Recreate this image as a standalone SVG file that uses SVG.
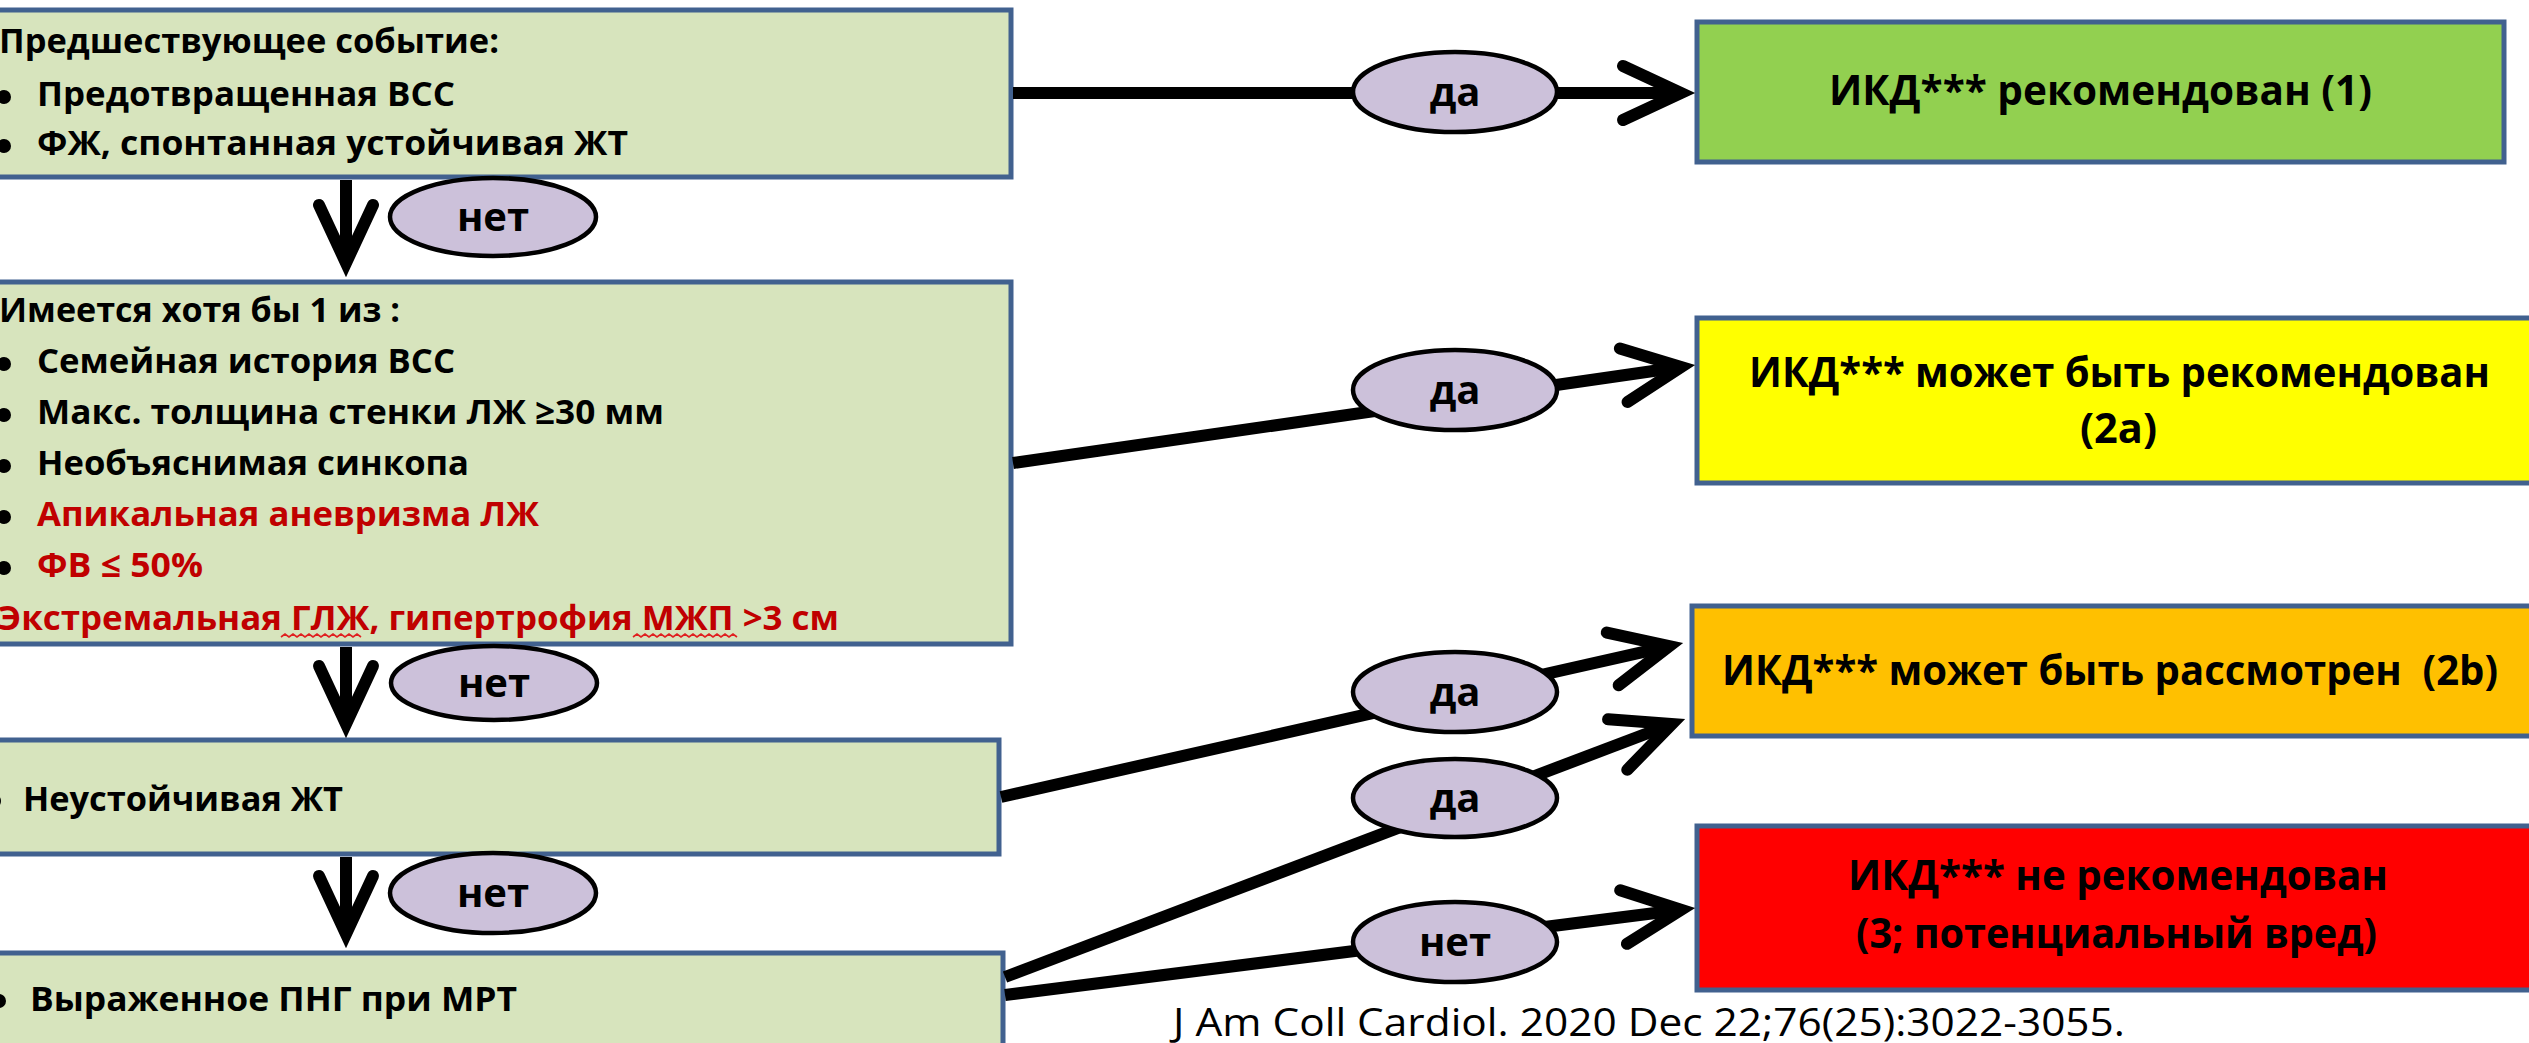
<svg xmlns="http://www.w3.org/2000/svg" width="2529" height="1043" viewBox="0 0 2529 1043">
  <style>
    .step { fill: #d7e4bd; stroke: #41618f; stroke-width: 5; }
    .out  { stroke: #41618f; stroke-width: 5; }
    .t    { font-family: "Open Sans", "Noto Sans", "Liberation Sans", sans-serif; font-weight: bold; font-size: 34px; fill: #000; }
    .red  { fill: #c00000; }
    .big  { font-family: "Open Sans", "Noto Sans", "Liberation Sans", sans-serif; font-weight: bold; font-size: 42px; fill: #000; white-space: pre; }
    .lbl  { fill: #ccc1da; stroke: #000; stroke-width: 4.5; }
    .lt   { font-family: "Open Sans", "Noto Sans", "Liberation Sans", sans-serif; font-weight: bold; font-size: 40px; fill: #000; text-anchor: middle; }
    .wire { stroke: #000; stroke-width: 12; fill: none; marker-end: url(#chev); }
    .dot  { fill: #000; }
    .squig { fill: none; stroke: #e02020; stroke-width: 1.6; }
    .ref  { font-family: "Open Sans", "Noto Sans", "Liberation Sans", sans-serif; font-size: 38px; fill: #000; }
  </style>
  <defs>
    <marker id="chev" markerUnits="userSpaceOnUse" viewBox="-75 -40 95 80" refX="0" refY="0" markerWidth="95" markerHeight="80" orient="auto" overflow="visible">
      <path d="M-58,-27 L0,0 L-58,27" fill="none" stroke="#000" stroke-width="12" stroke-linecap="round" stroke-linejoin="miter" stroke-miterlimit="10"/>
    </marker>
  </defs>

  <rect width="2529" height="1043" fill="#fff"/>

  <!-- decision chain on the left -->
  <g id="prior-event">
    <rect class="step" x="-10" y="10" width="1021" height="167"/>
    <text class="t" x="-1" y="53" textLength="500" lengthAdjust="spacingAndGlyphs">Предшествующее событие:</text>
    <circle class="dot" cx="4" cy="97" r="7"/>
    <text class="t" x="37" y="106" textLength="418" lengthAdjust="spacingAndGlyphs">Предотвращенная ВСС</text>
    <circle class="dot" cx="4" cy="146" r="7"/>
    <text class="t" x="37" y="155" textLength="591" lengthAdjust="spacingAndGlyphs">ФЖ, спонтанная устойчивая ЖТ</text>
  </g>

  <g id="risk-factors">
    <rect class="step" x="-10" y="282" width="1021" height="362"/>
    <text class="t" x="-1" y="322" textLength="401" lengthAdjust="spacingAndGlyphs">Имеется хотя бы 1 из :</text>
    <circle class="dot" cx="4" cy="364" r="7"/>
    <text class="t" x="37" y="373" textLength="418" lengthAdjust="spacingAndGlyphs">Семейная история ВСС</text>
    <circle class="dot" cx="4" cy="415" r="7"/>
    <text class="t" x="37" y="424" textLength="627" lengthAdjust="spacingAndGlyphs">Макс. толщина стенки ЛЖ ≥30 мм</text>
    <circle class="dot" cx="4" cy="466" r="7"/>
    <text class="t" x="37" y="475" textLength="432" lengthAdjust="spacingAndGlyphs">Необъяснимая синкопа</text>
    <circle class="dot" cx="4" cy="517" r="7"/>
    <text class="t red" x="37" y="526" textLength="502" lengthAdjust="spacingAndGlyphs">Апикальная аневризма ЛЖ</text>
    <circle class="dot red" cx="4" cy="568" r="7"/>
    <text class="t red" x="37" y="577" textLength="166" lengthAdjust="spacingAndGlyphs">ФВ ≤ 50%</text>
    <text class="t red" x="-2" y="630" textLength="841" lengthAdjust="spacingAndGlyphs">Экстремальная ГЛЖ, гипертрофия МЖП &gt;3 см</text>
    <path class="squig" d="M281,637 l4,-3 l4,3 l4,-3 l4,3 l4,-3 l4,3 l4,-3 l4,3 l4,-3 l4,3 l4,-3 l4,3 l4,-3 l4,3 l4,-3 l4,3 l4,-3 l4,3 l4,-3 l4,3"/>
    <path class="squig" d="M633,637 l4,-3 l4,3 l4,-3 l4,3 l4,-3 l4,3 l4,-3 l4,3 l4,-3 l4,3 l4,-3 l4,3 l4,-3 l4,3 l4,-3 l4,3 l4,-3 l4,3 l4,-3 l4,3 l4,-3 l4,3 l4,-3 l4,3 l4,-3 l4,3"/>
  </g>

  <g id="nsvt">
    <rect class="step" x="-10" y="740" width="1009" height="114"/>
    <circle class="dot" cx="-6" cy="801" r="7"/>
    <text class="t" x="23" y="811" textLength="320" lengthAdjust="spacingAndGlyphs">Неустойчивая ЖТ</text>
  </g>

  <g id="lge-mri">
    <rect class="step" x="-10" y="953" width="1013" height="110"/>
    <circle class="dot" cx="-1" cy="1001" r="7"/>
    <text class="t" x="30" y="1011" textLength="487" lengthAdjust="spacingAndGlyphs">Выраженное ПНГ при МРТ</text>
  </g>

  <!-- recommendation classes on the right -->
  <g id="class-1">
    <rect class="out" fill="#92d050" x="1697" y="22" width="807" height="140"/>
    <text class="big" x="1829" y="105" textLength="543" lengthAdjust="spacingAndGlyphs">ИКД*** рекомендован (1)</text>
  </g>

  <g id="class-2a">
    <rect class="out" fill="#ffff00" x="1697" y="318" width="850" height="165"/>
    <text class="big" x="1749" y="387" textLength="741" lengthAdjust="spacingAndGlyphs">ИКД*** может быть рекомендован</text>
    <text class="big" x="2080" y="443" textLength="77" lengthAdjust="spacingAndGlyphs">(2a)</text>
  </g>

  <g id="class-2b">
    <rect class="out" fill="#ffc000" x="1692" y="606" width="855" height="130"/>
    <text class="big" x="1722" y="685" textLength="776" lengthAdjust="spacingAndGlyphs">ИКД*** может быть рассмотрен  (2b)</text>
  </g>

  <g id="class-3">
    <rect class="out" fill="#ff0000" x="1697" y="826" width="850" height="164"/>
    <text class="big" x="1848" y="890" textLength="540" lengthAdjust="spacingAndGlyphs">ИКД*** не рекомендован</text>
    <text class="big" x="1856" y="948" textLength="521" lengthAdjust="spacingAndGlyphs">(3; потенциальный вред)</text>
  </g>

  <!-- arrows between steps and outcomes -->
  <g id="connectors">
    <line class="wire" x1="346" y1="180" x2="346" y2="263"/>
    <line class="wire" x1="346" y1="647" x2="346" y2="724"/>
    <line class="wire" x1="346" y1="857" x2="346" y2="934"/>
    <line class="wire" x1="1013" y1="93" x2="1681" y2="93"/>
    <line class="wire" x1="1013" y1="463" x2="1681.1" y2="367"/>
    <line class="wire" x1="1001" y1="797" x2="1669.3" y2="646.1"/>
    <line class="wire" x1="1005" y1="977" x2="1671.9" y2="724"/>
    <line class="wire" x1="1005" y1="995" x2="1681.1" y2="909.8"/>
  </g>

  <!-- yes / no tags sitting on the arrows -->
  <g id="tags">
    <ellipse class="lbl" cx="493" cy="217" rx="103" ry="39"/>
    <text class="lt" x="493" y="231">нет</text>
    <ellipse class="lbl" cx="494" cy="683" rx="103" ry="37"/>
    <text class="lt" x="494" y="697">нет</text>
    <ellipse class="lbl" cx="493" cy="893" rx="103" ry="40"/>
    <text class="lt" x="493" y="907">нет</text>
    <ellipse class="lbl" cx="1455" cy="92" rx="102" ry="40"/>
    <text class="lt" x="1455" y="106">да</text>
    <ellipse class="lbl" cx="1455" cy="390" rx="102" ry="40"/>
    <text class="lt" x="1455" y="404">да</text>
    <ellipse class="lbl" cx="1455" cy="692" rx="102" ry="40"/>
    <text class="lt" x="1455" y="706">да</text>
    <ellipse class="lbl" cx="1455" cy="798" rx="102" ry="39"/>
    <text class="lt" x="1455" y="812">да</text>
    <ellipse class="lbl" cx="1455" cy="942" rx="102" ry="40"/>
    <text class="lt" x="1455" y="956">нет</text>
  </g>

  <text class="ref" x="1173" y="1036" textLength="952" lengthAdjust="spacingAndGlyphs">J Am Coll Cardiol. 2020 Dec 22;76(25):3022-3055.</text>
</svg>
